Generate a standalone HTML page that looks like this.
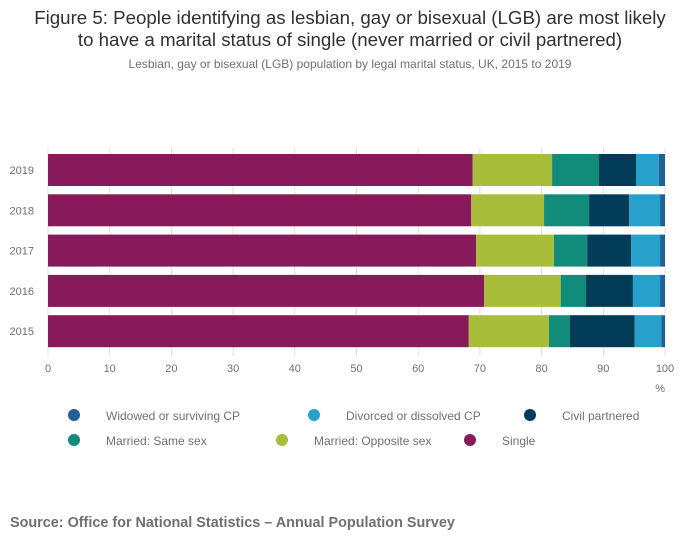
<!DOCTYPE html>
<html><head><meta charset="utf-8"><style>
body{margin:0;background:#fff;font-family:"Liberation Sans",sans-serif;}
svg text{font-family:"Liberation Sans",sans-serif;}
</style></head><body>
<svg width="700" height="549">
<text x="350" y="24" text-anchor="middle" font-size="18.7" fill="#323132">Figure 5: People identifying as lesbian, gay or bisexual (LGB) are most likely</text>
<text x="350" y="46" text-anchor="middle" font-size="18.7" fill="#323132">to have a marital status of single (never married or civil partnered)</text>
<text x="350" y="68" text-anchor="middle" font-size="12" fill="#707071">Lesbian, gay or bisexual (LGB) population by legal marital status, UK, 2015 to 2019</text>
<g id="grid"></g><g id="bars"></g><g id="axis"></g><g id="legend"></g>
<text x="10" y="527" font-size="14.4" font-weight="bold" fill="#707071">Source: Office for National Statistics – Annual Population Survey</text>
</svg>
<script>
const years=["2019","2018","2017","2016","2015"];
const single=[68.8,68.6,69.4,70.7,68.2];
const opposite=[12.9,11.8,12.6,12.4,13.0];
const sameSex=[7.6,7.3,5.4,4.1,3.4];
const civil=[6.0,6.5,7.1,7.6,10.5];
const divorced=[3.7,5.0,4.7,4.4,4.3];
const widowed=[1.0,0.8,0.8,0.8,0.6];
const ticks=[0,10,20,30,40,50,60,70,80,90,100];
const series=[["Single",single,"#871a5b"],["Married: Opposite sex",opposite,"#a8bd3a"],["Married: Same sex",sameSex,"#118c7b"],["Civil partnered",civil,"#003c57"],["Divorced or dissolved CP",divorced,"#27a0cc"],["Widowed or surviving CP",widowed,"#206095"]];
const NS="http://www.w3.org/2000/svg";
const x=v=>48+v*6.17, y=i=>154+i*40.3, bh=32;
function mk(t,a,p){const e=document.createElementNS(NS,t);for(const k in a)e.setAttribute(k,a[k]);document.getElementById(p).appendChild(e);return e;}
ticks.forEach(t=>{
 const l=mk("line",{x1:x(t),x2:x(t),y1:148,y2:356,stroke:"#e0e0e0"},"grid");
 
 
 const tx=mk("text",{x:x(t),y:372,"text-anchor":"middle","font-size":11,fill:"#707071"},"axis");tx.textContent=t;
 
 
});
const pc=mk("text",{x:665,y:392,"text-anchor":"end","font-size":11,fill:"#707071"},"axis");pc.textContent="%";


years.forEach((yr,i)=>{
 const t=mk("text",{x:34,y:y(i)+bh/2+4,"text-anchor":"end","font-size":11,fill:"#707071"},"axis");t.textContent=yr;
 
 
 let c=0;
 series.forEach(s=>{const v=s[1][i];
  const r=mk("rect",{x:x(c),y:y(i),width:x(c+v)-x(c),height:bh,fill:s[2]},"bars");
  
  
  c+=v;});
});
const leg=[[5,62,416],[4,302,416],[3,518,416],[2,62,441],[1,270,441],[0,458,441]];
leg.forEach(([si,lx,ly])=>{
 const c=mk("circle",{cx:lx+12,cy:ly-1,r:6,fill:series[si][2]},"legend");
 
 
 const t=mk("text",{x:lx+44,y:ly+4,"font-size":12,fill:"#707071"},"legend");t.textContent=series[si][0];
 
 
});
</script>
</body></html>
